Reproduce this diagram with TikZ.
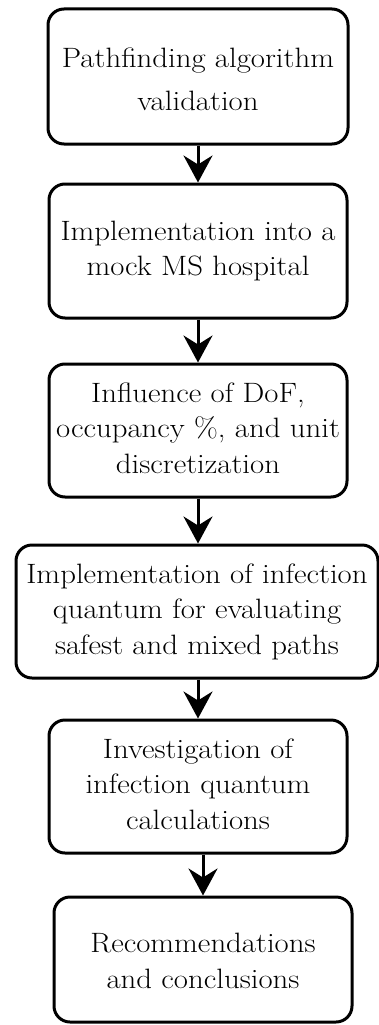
\documentclass[tikz,border=0pt]{standalone}
\usepackage{graphicx}
\usetikzlibrary{arrows.meta}
% box text, set slightly wide; optional argument lowers it without resizing
\newcommand{\boxtext}[2][0pt]{\raisebox{-#1}[\height][\depth]{\scalebox{1.1}[1]{\begin{tabular}{@{}c@{}}#2\end{tabular}}}}
\begin{document}
\begin{tikzpicture}[x=1pt,y=-1pt,
  stepbox/.style={draw=black, line width=3pt, rounded corners=16pt,
    align=center, inner sep=0pt, font=\fontsize{28}{35.5}\selectfont},
  flow/.style={line width=3pt, -{Stealth[length=27pt,width=29pt,inset=9pt]}}]
  \useasboundingbox (0,0) rectangle (379,1025);

  % process boxes, top to bottom
  \node[stepbox, minimum width=300pt, minimum height=135pt] (b1) at (198,76.5)
    {\boxtext[5pt]{Pathfinding algorithm\\[7.5pt]validation}};
  \node[stepbox, minimum width=298pt, minimum height=134pt] (b2) at (198,251)
    {\boxtext{Implementation into a\\mock MS hospital}};
  \node[stepbox, minimum width=298pt, minimum height=133pt] (b3) at (198,430.5)
    {\boxtext{Influence of DoF,\\occupancy \%, and unit\\discretization}};
  \node[stepbox, minimum width=362pt, minimum height=133pt] (b4) at (197,611.5)
    {\boxtext{Implementation of infection\\quantum for evaluating\\safest and mixed paths}};
  \node[stepbox, minimum width=298pt, minimum height=133pt] (b5) at (198,786.5)
    {\boxtext{Investigation of\\infection quantum\\calculations}};
  \node[stepbox, minimum width=298pt, minimum height=125pt] (b6) at (203,959.5)
    {\boxtext[4pt]{Recommendations\\and conclusions}};

  % connectors
  \draw[flow] (b2.north |- b1.south) -- (b2.north);
  \draw[flow] (b3.north |- b2.south) -- (b3.north);
  \draw[flow] (b3.south) -- (b3.south |- b4.north);
  \draw[flow] (b5.north |- b4.south) -- (b5.north);
  \draw[flow] (b6.north |- b5.south) -- (b6.north);
\end{tikzpicture}
\end{document}
